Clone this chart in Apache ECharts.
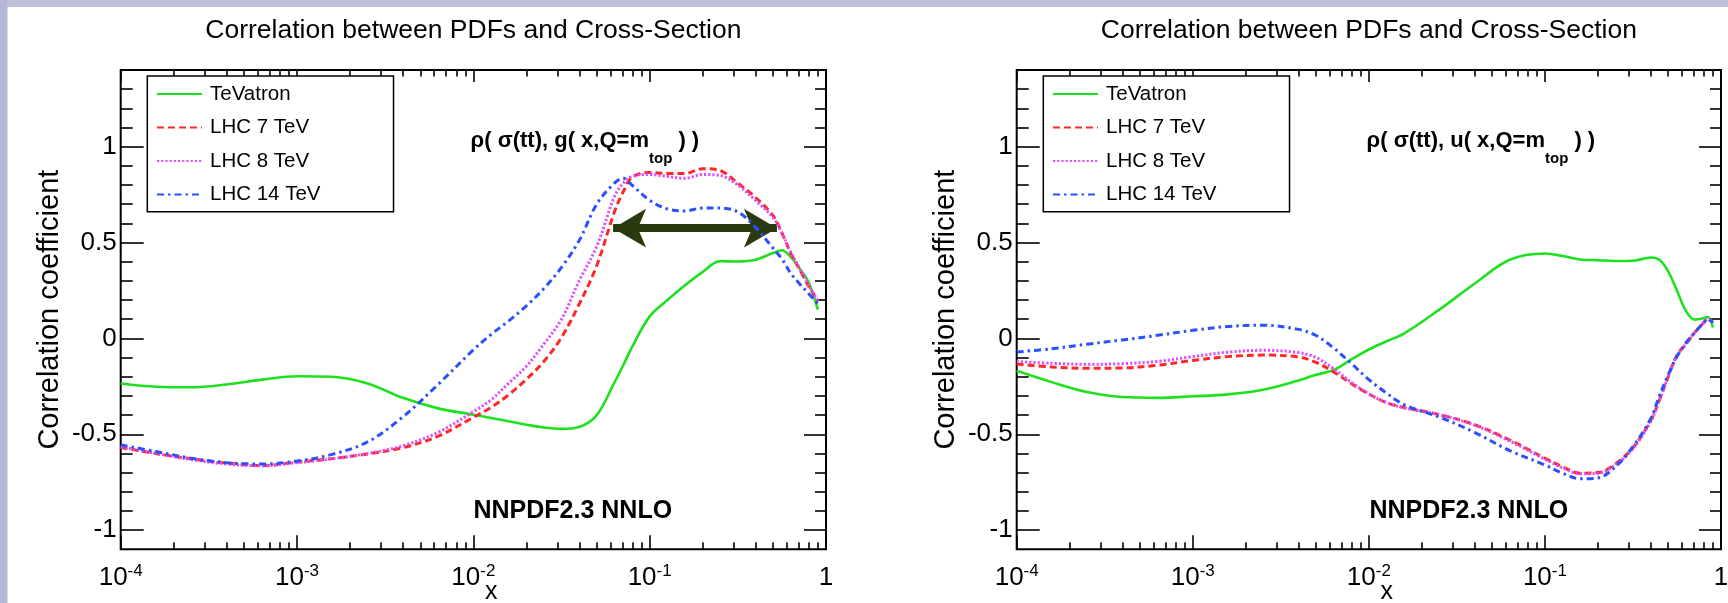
<!DOCTYPE html>
<html>
<head>
<meta charset="utf-8">
<script src="https://cdn.jsdelivr.net/npm/echarts@6/dist/echarts.min.js"></script>
<style>
  html, body { margin: 0; padding: 0; background: #ffffff; }
  #chart { width: 1728px; height: 603px; }
</style>
</head>
<body>
<div id="chart"></div>
<script>
// ---- gluon panel: rho( sigma(tt), g(x, Q = m_top) ) ----
const xGluon = [1.0e-4, 1.58e-4, 2.51e-4, 3.98e-4, 6.31e-4, 1.0e-3, 1.58e-3, 2.51e-3, 3.98e-3, 6.31e-3,
  0.01, 0.0126, 0.0158, 0.02, 0.0251, 0.0316, 0.0398, 0.0501, 0.0631, 0.0708, 0.0794,
  0.1, 0.126, 0.158, 0.2, 0.251, 0.316, 0.398, 0.501, 0.562, 0.631, 0.708, 0.794, 0.90];
const gluonTeVatron = [-0.235, -0.252, -0.255, -0.24, -0.215, -0.197, -0.2, -0.235, -0.31, -0.365,
  -0.398, -0.415, -0.432, -0.45, -0.465, -0.472, -0.462, -0.40, -0.23, -0.14, -0.045,
  0.115, 0.2, 0.276, 0.347, 0.403, 0.401, 0.41, 0.445, 0.46, 0.425, 0.365, 0.295, 0.15];
const gluonLHC7 = [-0.569, -0.6, -0.628, -0.65, -0.663, -0.645, -0.627, -0.603, -0.57, -0.51,
  -0.412, -0.36, -0.295, -0.213, -0.12, 0.005, 0.178, 0.38, 0.66, 0.765, 0.84,
  0.866, 0.86, 0.86, 0.885, 0.875, 0.81, 0.735, 0.64, 0.55, 0.445, 0.36, 0.275, 0.195];
const gluonLHC8 = [-0.565, -0.6, -0.632, -0.655, -0.665, -0.648, -0.628, -0.6, -0.56, -0.49,
  -0.382, -0.32, -0.235, -0.145, -0.03, 0.1, 0.3, 0.48, 0.74, 0.81, 0.845,
  0.855, 0.845, 0.835, 0.855, 0.85, 0.8, 0.72, 0.63, 0.55, 0.45, 0.365, 0.28, 0.195];
const gluonLHC14 = [-0.555, -0.59, -0.625, -0.648, -0.655, -0.64, -0.605, -0.54, -0.41, -0.24,
  -0.06, 0.02, 0.09, 0.17, 0.26, 0.37, 0.51, 0.7, 0.81, 0.835, 0.8,
  0.72, 0.675, 0.665, 0.68, 0.68, 0.66, 0.58, 0.47, 0.415, 0.34, 0.285, 0.235, 0.18];

// ---- up-quark panel: rho( sigma(tt), u(x, Q = m_top) ) ----
const xUp = [1.0e-4, 1.58e-4, 2.51e-4, 3.98e-4, 6.31e-4, 1.0e-3, 1.58e-3, 2.51e-3, 3.98e-3, 5.01e-3,
  6.31e-3, 7.94e-3, 0.01, 0.0126, 0.0158, 0.0251, 0.0398, 0.0631, 0.1, 0.126, 0.158,
  0.2, 0.251, 0.316, 0.398, 0.447, 0.501, 0.562, 0.631, 0.708, 0.794, 0.841, 0.90];
const upTeVatron = [-0.169, -0.228, -0.28, -0.306, -0.31, -0.302, -0.292, -0.268, -0.22, -0.19,
  -0.165, -0.11, -0.058, -0.015, 0.025, 0.15, 0.285, 0.41, 0.443, 0.43, 0.412,
  0.408, 0.404, 0.405, 0.422, 0.41, 0.35, 0.25, 0.145, 0.098, 0.105, 0.112, 0.057];
const upLHC7 = [-0.134, -0.149, -0.156, -0.154, -0.14, -0.115, -0.095, -0.087, -0.097, -0.125,
  -0.175, -0.235, -0.29, -0.335, -0.36, -0.397, -0.45, -0.53, -0.625, -0.67, -0.703,
  -0.7, -0.655, -0.57, -0.43, -0.32, -0.2, -0.088, -0.03, 0.03, 0.08, 0.1, 0.083];
const upLHC8 = [-0.12, -0.13, -0.135, -0.132, -0.12, -0.095, -0.072, -0.062, -0.074, -0.1,
  -0.158, -0.228, -0.29, -0.335, -0.362, -0.398, -0.452, -0.535, -0.63, -0.675, -0.706,
  -0.704, -0.66, -0.575, -0.435, -0.322, -0.2, -0.09, -0.03, 0.03, 0.08, 0.1, 0.083];
const upLHC14 = [-0.071, -0.054, -0.03, -0.008, 0.016, 0.042, 0.062, 0.069, 0.047, 0.015,
  -0.05, -0.13, -0.215, -0.285, -0.345, -0.41, -0.49, -0.585, -0.66, -0.703, -0.732,
  -0.728, -0.67, -0.565, -0.42, -0.3, -0.19, -0.095, -0.025, 0.03, 0.08, 0.1, 0.083];

const seriesNames = ['TeVatron', 'LHC 7 TeV', 'LHC 8 TeV', 'LHC 14 TeV'];
const panelTitle = 'Correlation between PDFs and Cross-Section';
const pdfSetLabel = 'NNPDF2.3 NNLO';

// axis ticks and their labels
const xMajorTicks = [1e-4, 1e-3, 1e-2, 1e-1, 1];
const xTickLabels = [['10', '-4'], ['10', '-3'], ['10', '-2'], ['10', '-1'], ['1', '']];
const yMajorTicks = [-1, -0.5, 0, 0.5, 1];
const yTickLabels = ['-1', '-0.5', '0', '0.5', '1'];
const yMinorTicks = [-0.9, -0.8, -0.7, -0.6, -0.4, -0.3, -0.2, -0.1, 0.1, 0.2, 0.3, 0.4,
  0.6, 0.7, 0.8, 0.9, 1.1, 1.2, 1.3];
const xMinorTicks = [];
for (let d = -4; d < 0; d++) {
  for (let m = 2; m <= 9; m++) xMinorTicks.push(m * Math.pow(10, d));
}

// double arrow marking the high-correlation region of the gluon panel
const arrowSpanX = [0.062, 0.527];
const arrowLevelY = 0.575;

const FONT = "'Liberation Sans', Arial, Helvetica, sans-serif";
const INK = '#000000';
const COLORS = ['#1fe01f', '#ff2626', '#dc50ff', '#2a50ff'];
const DASHES = ['solid', [7, 4], [2.2, 2], [7, 4, 2.5, 4]];

const GRIDS = [
  { left: 120.7, top: 70, width: 705.3, height: 479.3 },
  { left: 1016.7, top: 70, width: 704.3, height: 479.3 }
];

const tickLine = { color: INK, width: 1.6 };

function xAxesFor(g) {
  const base = {
    gridIndex: g, type: 'log', logBase: 10, min: 1e-4, max: 1, silent: true,
    axisLine: { show: false, onZero: false }, splitLine: { show: false },
    axisLabel: { show: false }, axisTick: { show: false }
  };
  return [
    Object.assign({}, base, {
      position: 'bottom',
      axisTick: { show: true, inside: true, length: 14, customValues: xMajorTicks, lineStyle: tickLine },
      axisLabel: {
        show: true, customValues: xMajorTicks, margin: 13.5,
        formatter: function (v) {
          const i = xMajorTicks.findIndex(t => Math.abs(Math.log10(t) - Math.log10(v)) < 1e-6);
          const p = xTickLabels[i];
          return p[1] ? '{b|' + p[0] + '}{s|' + p[1] + '}' : '{b|' + p[0] + '}';
        },
        rich: {
          b: { fontSize: 26, fontFamily: FONT, color: INK, padding: [2, 0, 0, 0], verticalAlign: 'top' },
          s: { fontSize: 17, fontFamily: FONT, color: INK, verticalAlign: 'top' }
        }
      },
      name: 'x', nameLocation: 'middle', nameGap: 30, nameMoveOverlap: false,
      nameTextStyle: { fontSize: 25, fontFamily: FONT, color: INK, padding: [0, 0, 0, 36] }
    }),
    Object.assign({}, base, {
      position: 'bottom',
      axisTick: { show: true, inside: true, length: 7, customValues: xMinorTicks, lineStyle: tickLine }
    }),
    Object.assign({}, base, {
      position: 'top',
      axisTick: { show: true, inside: true, length: 12, customValues: xMajorTicks, lineStyle: tickLine }
    }),
    Object.assign({}, base, {
      position: 'top',
      axisTick: { show: true, inside: true, length: 6.5, customValues: xMinorTicks, lineStyle: tickLine }
    })
  ];
}

function yAxesFor(g) {
  const base = {
    gridIndex: g, type: 'value', min: -1.1, max: 1.4, silent: true,
    axisLine: { show: false, onZero: false }, splitLine: { show: false },
    axisLabel: { show: false }, axisTick: { show: false }
  };
  return [
    Object.assign({}, base, {
      position: 'left',
      axisTick: { show: true, inside: true, length: 23, customValues: yMajorTicks, lineStyle: tickLine },
      axisLabel: {
        show: true, customValues: yMajorTicks, margin: 4,
        fontSize: 26, fontFamily: FONT, color: INK,
        formatter: function (v) {
          const i = yMajorTicks.findIndex(t => Math.abs(t - v) < 1e-6);
          return yTickLabels[i];
        }
      },
      name: 'Correlation coefficient', nameLocation: 'middle', nameGap: 56, nameMoveOverlap: false,
      nameTextStyle: { fontSize: 29, fontFamily: FONT, color: INK }
    }),
    Object.assign({}, base, {
      position: 'left',
      axisTick: { show: true, inside: true, length: 12, customValues: yMinorTicks, lineStyle: tickLine }
    }),
    Object.assign({}, base, {
      position: 'right',
      axisTick: { show: true, inside: true, length: 22, customValues: yMajorTicks, lineStyle: tickLine }
    }),
    Object.assign({}, base, {
      position: 'right',
      axisTick: { show: true, inside: true, length: 11, customValues: yMinorTicks, lineStyle: tickLine }
    })
  ];
}

function curve(name, xs, ys, k, axisIndex) {
  return {
    type: 'line', name: name, xAxisIndex: axisIndex, yAxisIndex: axisIndex,
    data: xs.map((x, i) => [x, ys[i]]),
    symbol: 'none', smooth: 0.35, silent: true, z: 3 + k,
    lineStyle: { color: COLORS[k], width: k === 0 ? 2.6 : 3, type: DASHES[k] },
    itemStyle: { color: COLORS[k] }
  };
}

const gluonSets = [gluonTeVatron, gluonLHC7, gluonLHC8, gluonLHC14];
const upSets = [upTeVatron, upLHC7, upLHC8, upLHC14];

const series = [];
seriesNames.forEach((n, k) => series.push(curve(n, xGluon, gluonSets[k], k, 0)));
seriesNames.forEach((n, k) => series.push(curve(n, xUp, upSets[k], k, 4)));

// arrow annotation on the gluon panel
series.push({
  type: 'line', name: 'range', xAxisIndex: 0, yAxisIndex: 0, data: [], z: 20, silent: true,
  markLine: {
    silent: true, animation: false,
    symbol: ['arrow', 'arrow'], symbolSize: [29, 33],
    label: { show: false },
    lineStyle: { color: '#2a3a0f', width: 8, type: 'solid', opacity: 1 },
    data: [[{ coord: [arrowSpanX[0], arrowLevelY] }, { coord: [arrowSpanX[1], arrowLevelY] }]]
  }
});

function legendFor(left) {
  return {
    data: seriesNames, orient: 'vertical', left: left, top: 76,
    selectedMode: false,
    backgroundColor: '#ffffff', borderColor: INK, borderWidth: 1.5, borderRadius: 0,
    padding: [7.5, 73, 6.7, 8.7],
    itemWidth: 45, itemHeight: 20, itemGap: 12.5,
    itemStyle: { opacity: 0 },
    textStyle: { fontSize: 20.5, fontFamily: FONT, color: INK, padding: [0, 0, 0, 3] }
  };
}

function annotation(x, letter) {
  return {
    type: 'text', x: x, y: 130, silent: true, z: 30,
    style: {
      text: '{a|\u03c1( \u03c3(tt), ' + letter + '( x,Q=m}{s|top}{a| ) )}',
      align: 'left', verticalAlign: 'top',
      rich: {
        a: { fontSize: 22, fontWeight: 'bold', fontFamily: FONT, fill: INK, color: INK, lineHeight: 22, verticalAlign: 'top' },
        s: { fontSize: 15, fontWeight: 'bold', fontFamily: FONT, fill: INK, color: INK, padding: [21, 0, 0, 0], verticalAlign: 'top' }
      }
    }
  };
}

function setLabel(x) {
  return {
    type: 'text', x: x, y: 511, silent: true, z: 30,
    style: {
      text: pdfSetLabel, fill: INK, align: 'left', verticalAlign: 'middle',
      font: 'bold 25px ' + FONT
    }
  };
}

const option = {
  animation: false,
  backgroundColor: '#ffffff',
  textStyle: { fontFamily: FONT },
  title: [
    { text: panelTitle, left: 473.4, top: 17.5, textAlign: 'center', padding: 0,
      textStyle: { fontSize: 26.5, fontWeight: 'normal', fontFamily: FONT, color: INK } },
    { text: panelTitle, left: 1368.9, top: 17.5, textAlign: 'center', padding: 0,
      textStyle: { fontSize: 26.5, fontWeight: 'normal', fontFamily: FONT, color: INK } }
  ],
  grid: GRIDS.map(g => Object.assign({
    show: true, borderColor: INK, borderWidth: 2, backgroundColor: 'transparent',
    containLabel: false, outerBoundsMode: 'none'
  }, g)),
  xAxis: xAxesFor(0).concat(xAxesFor(1)),
  yAxis: yAxesFor(0).concat(yAxesFor(1)),
  legend: [legendFor(147.3), legendFor(1043.3)],
  series: series,
  graphic: [
    { type: 'rect', shape: { x: 0, y: 0, width: 1728, height: 7 }, style: { fill: '#c0c0da' }, silent: true, z: 0 },
    { type: 'rect', shape: { x: 0, y: 0, width: 7.5, height: 603 }, style: { fill: '#b6b6d5' }, silent: true, z: 0 },
    annotation(470.6, 'g'),
    annotation(1366.6, 'u'),
    setLabel(473.5),
    setLabel(1369.5)
  ]
};

const chart = echarts.init(document.getElementById('chart'), null, { renderer: 'canvas' });
chart.setOption(option);
</script>
</body>
</html>
